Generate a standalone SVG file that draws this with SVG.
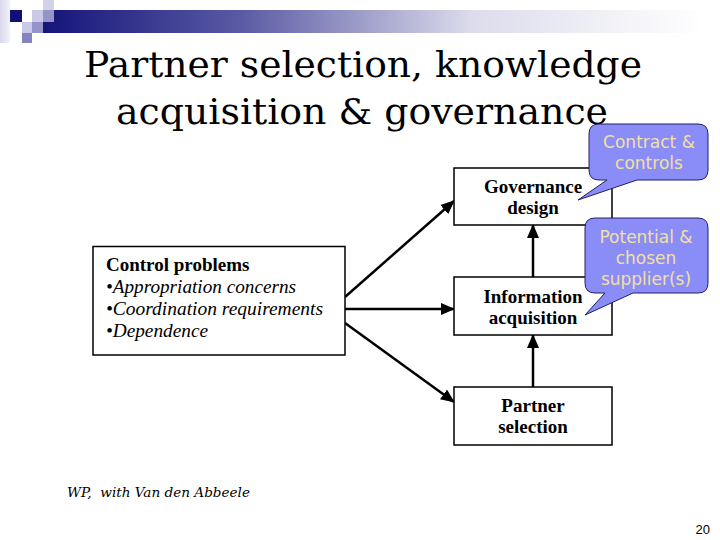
<svg xmlns="http://www.w3.org/2000/svg" width="720" height="540" viewBox="0 0 720 540">
<defs>
<linearGradient id="bar" x1="0" y1="0" x2="1" y2="0">
<stop offset="0" stop-color="#14147a"/>
<stop offset="0.3" stop-color="#5a5aa4"/>
<stop offset="0.65" stop-color="#dcdcec"/>
<stop offset="1" stop-color="#ffffff"/>
</linearGradient>
<linearGradient id="side" x1="0" y1="0" x2="1" y2="0">
<stop offset="0" stop-color="#d8d8ee"/>
<stop offset="1" stop-color="#f4f4fa"/>
</linearGradient>
<marker id="ah" markerUnits="userSpaceOnUse" markerWidth="14" markerHeight="12" refX="13" refY="6" orient="auto">
<path d="M0,0 L14,6 L0,12 Z" fill="#000"/>
</marker>
<style>
.box{fill:#fff;stroke:#000;stroke-width:1.5}
.bt{font-family:"Liberation Serif","Times New Roman",serif;font-weight:bold;font-size:19px;text-anchor:middle;fill:#000}
.it{font-family:"Liberation Serif","Times New Roman",serif;font-style:italic;font-size:19.5px;fill:#000}
.con{stroke:#000;stroke-width:2.5;fill:none;marker-end:url(#ah)}
.call{fill:#8a8cf8;stroke:#202060;stroke-width:1}
.ct{font-family:"DejaVu Sans",Verdana,sans-serif;font-size:17px;fill:#f2e0a0;text-anchor:middle}
.title{font-family:"DejaVu Serif",serif;font-size:35px;fill:#000;text-anchor:middle}
</style>
</defs>
<rect width="720" height="540" fill="#fff"/>
<g id="decoration">
<rect x="0" y="0" width="10" height="43" fill="url(#side)"/>
<rect x="43" y="10" width="660" height="23" fill="url(#bar)"/>
<rect x="10" y="10" width="12" height="12" fill="#10107a"/>
<rect x="32" y="10" width="11" height="12" fill="#cacae8"/>
<rect x="43" y="0" width="11" height="10" fill="#d2d2ea"/>
<rect x="43" y="10" width="11" height="12" fill="#9494c8"/>
<rect x="22" y="22" width="10" height="11" fill="#cacae8"/>
<rect x="32" y="22" width="11" height="11" fill="#9494c8"/>
<rect x="22" y="33" width="10" height="10" fill="#8484c0"/>
</g>
<g id="title">
<text class="title" x="363" y="77" textLength="558" lengthAdjust="spacingAndGlyphs">Partner selection, knowledge</text>
<text class="title" x="362" y="124" textLength="492" lengthAdjust="spacingAndGlyphs">acquisition &amp; governance</text>
</g>
<g id="connectors">
<line class="con" x1="345" y1="297" x2="454" y2="201"/>
<line class="con" x1="345" y1="309" x2="454" y2="309"/>
<line class="con" x1="345" y1="323" x2="454" y2="402"/>
<line class="con" x1="533" y1="277" x2="533" y2="225"/>
<line class="con" x1="533" y1="387" x2="533" y2="335"/>
</g>
<g id="control-problems">
<rect class="box" x="93" y="246.5" width="252" height="108.5"/>
<text class="bt" x="106" y="271" style="text-anchor:start">Control problems</text>
<text class="it" x="106" y="293" textLength="190" lengthAdjust="spacingAndGlyphs">•Appropriation concerns</text>
<text class="it" x="106" y="315" textLength="217" lengthAdjust="spacingAndGlyphs">•Coordination requirements</text>
<text class="it" x="106" y="337" textLength="102" lengthAdjust="spacingAndGlyphs">•Dependence</text>
</g>
<g id="governance-design">
<rect class="box" x="454" y="168" width="158" height="57"/>
<text class="bt" x="533" y="193">Governance</text>
<text class="bt" x="533" y="214">design</text>
</g>
<g id="information-acquisition">
<rect class="box" x="454" y="277" width="158" height="58"/>
<text class="bt" x="533" y="303">Information</text>
<text class="bt" x="533" y="324">acquisition</text>
</g>
<g id="partner-selection">
<rect class="box" x="454" y="387" width="158" height="58"/>
<text class="bt" x="533" y="412">Partner</text>
<text class="bt" x="533" y="433">selection</text>
</g>
<g id="callout-contract">
<path class="call" d="M599,124 H698 Q708,124 708,134 V170 Q708,180 698,180 H637 L578,200 L607,180 H599 Q589,180 589,170 V134 Q589,124 599,124 Z"/>
<text class="ct" x="649" y="148">Contract &amp;</text>
<text class="ct" x="649" y="169">controls</text>
</g>
<g id="callout-supplier">
<path class="call" d="M595,218 H698 Q708,218 708,228 V283 Q708,293 698,293 H633 L585,315 L605,293 H595 Q585,293 585,283 V228 Q585,218 595,218 Z"/>
<text class="ct" x="646" y="243">Potential &amp;</text>
<text class="ct" x="646" y="264">chosen</text>
<text class="ct" x="646" y="285">supplier(s)</text>
</g>
<g id="footer">
<text x="67" y="497" font-family="DejaVu Serif, serif" font-style="italic" font-size="13" textLength="183" lengthAdjust="spacingAndGlyphs" xml:space="preserve">WP,  with Van den Abbeele</text>
<text x="710" y="534" font-family="Liberation Sans, Arial, sans-serif" font-size="13" text-anchor="end">20</text>
</g>
</svg>
